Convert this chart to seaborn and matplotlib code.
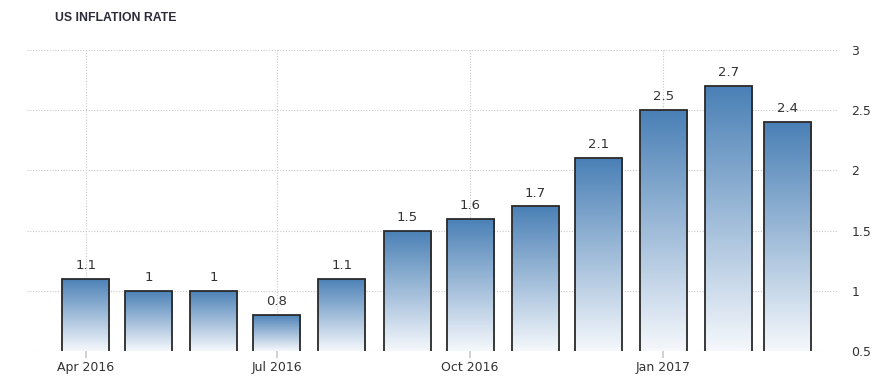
import numpy as np
import pandas as pd
import matplotlib
matplotlib.use("Agg")
import matplotlib.pyplot as plt
import seaborn as sns
from matplotlib.colors import LinearSegmentedColormap

months = ["2016-04", "2016-05", "2016-06", "2016-07", "2016-08", "2016-09",
          "2016-10", "2016-11", "2016-12", "2017-01", "2017-02", "2017-03"]
values = [1.1, 1.0, 1.0, 0.8, 1.1, 1.5, 1.6, 1.7, 2.1, 2.5, 2.7, 2.4]
value_labels = ["1.1", "1", "1", "0.8", "1.1", "1.5", "1.6", "1.7", "2.1", "2.5", "2.7", "2.4"]
tick_months = ["2016-04", "2016-07", "2016-10", "2017-01"]
tick_labels = ["Apr 2016", "Jul 2016", "Oct 2016", "Jan 2017"]
y_ticks = [0.5, 1, 1.5, 2, 2.5, 3]
y_tick_labels = ["0.5", "1", "1.5", "2", "2.5", "3"]
title = "US INFLATION RATE"

sns.set_theme(style="white")
plt.rcParams["font.family"] = ["DejaVu Sans"]

start = pd.Timestamp(months[0])
xpos = [(pd.Timestamp(m) - start).days for m in months]
tpos = [(pd.Timestamp(m) - start).days for m in tick_months]
df = pd.DataFrame({"x": xpos, "v": values})

fig = plt.figure(figsize=(8.94, 3.9), dpi=100)
ax = fig.add_axes([0.030, 0.100, 0.907, 0.772])

sns.barplot(data=df, x="x", y="v", native_scale=True, color="#4a80b6",
            edgecolor="#2a2a2a", linewidth=1.3, ax=ax, zorder=3)

cmap = LinearSegmentedColormap.from_list("g", ["#f5f8fc", "#4a80b6"])
grad = np.linspace(0, 1, 256).reshape(-1, 1)
for p in ax.patches:
    x0, y0 = p.get_x(), p.get_y()
    w, h = p.get_width(), p.get_height()
    im = ax.imshow(grad, cmap=cmap, origin="lower", aspect="auto",
                   extent=[x0, x0 + w, 0.5, y0 + h], zorder=2, interpolation="bilinear")
    im.set_clip_path(p)
    p.set_facecolor("none")
ax.set_xlim(-28, 358)
ax.set_ylim(0.5, 3)

ax.bar_label(ax.containers[0], labels=value_labels, padding=5, fontsize=9.5, color="#333333")

ax.yaxis.tick_right()
ax.set_yticks(y_ticks)
ax.set_yticklabels(y_tick_labels, fontsize=9, color="#333333")
ax.set_xticks(tpos)
ax.set_xticklabels(tick_labels, fontsize=9, color="#333333")
ax.tick_params(axis="y", length=0, pad=10)
ax.tick_params(axis="x", length=5, color="#cccccc", pad=2, bottom=True)
ax.grid(True, linestyle=(0, (1, 1.5)), color="#c8c8c8", linewidth=0.8, zorder=0)
ax.set_axisbelow(True)
for s in ax.spines.values():
    s.set_visible(False)
ax.set_xlabel("")
ax.set_ylabel("")

fig.text(55 / 894, 1 - 18 / 390, title, fontsize=8.8, fontweight="bold",
         family=["Liberation Sans", "DejaVu Sans"], color="#2b2b3a", va="center", ha="left")

fig.savefig("out.png", dpi=100)
